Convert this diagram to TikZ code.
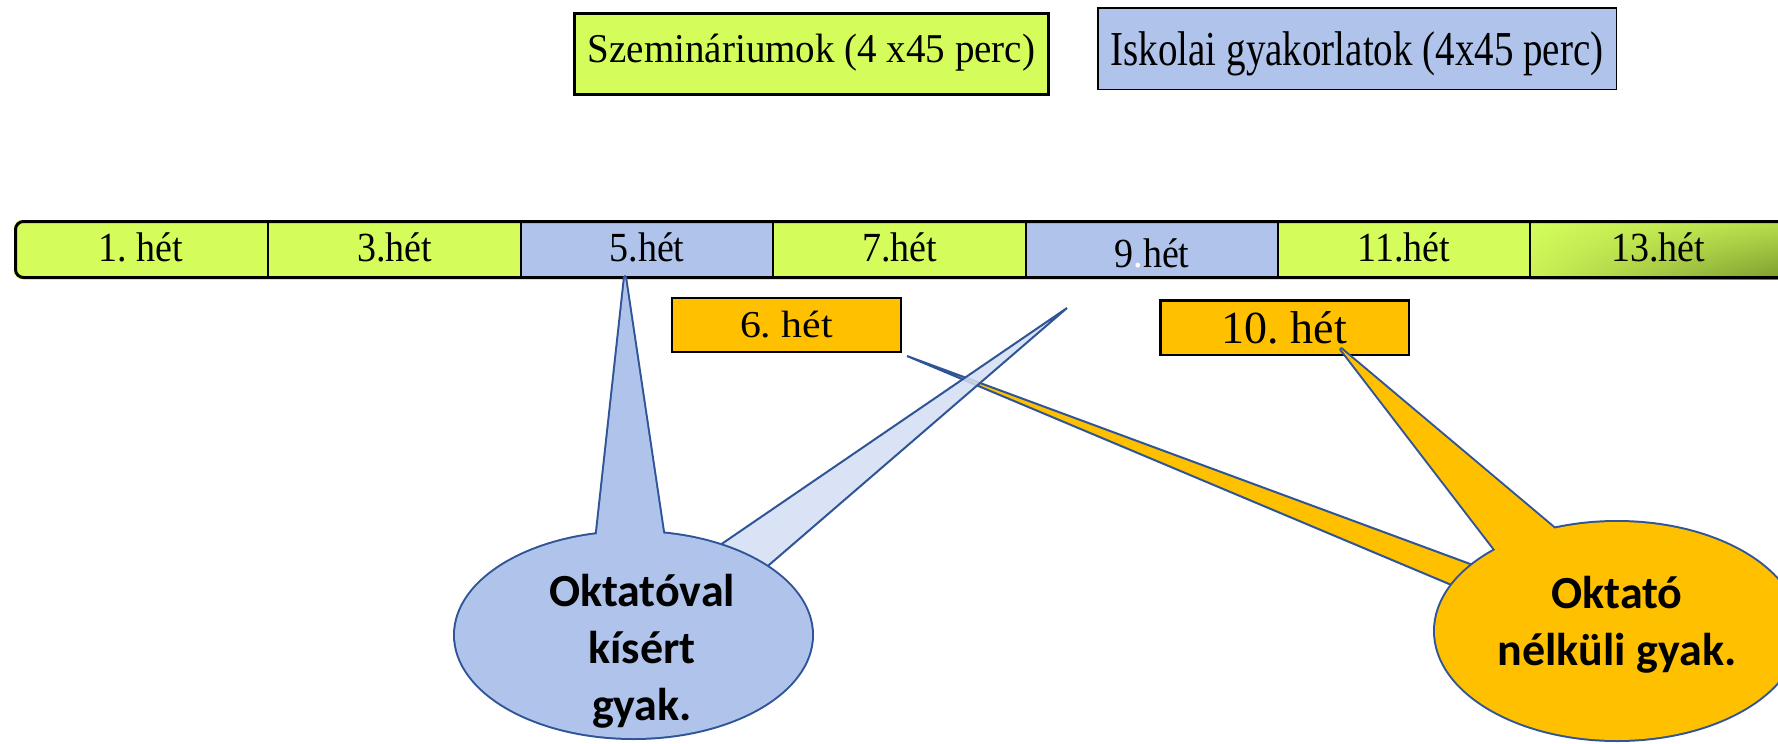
\documentclass[tikz,border=0pt]{standalone}
\usepackage{fontspec}
\setmainfont{Liberation Serif}
\newfontfamily\calib{Carlito}
\usepackage{graphicx}
\usetikzlibrary{shadings}
\definecolor{lime}{HTML}{D4FD5C}
\definecolor{cellblue}{HTML}{B0C3EA}
\definecolor{wedgeblue}{HTML}{D3DEF3}
\definecolor{orng}{HTML}{FFC000}
\definecolor{outl}{HTML}{2F5597}
\definecolor{olive}{HTML}{7B9A2C}
\newcommand\vstr[2]{\scalebox{1}[#1]{#2}}
\frenchspacing
\begin{document}
\frenchspacing
\begin{tikzpicture}[x=1pt,y=-1pt,
  cell/.style={rectangle, inner sep=0pt, outer sep=0pt, minimum width=#1, minimum height=59pt,
    text height=28pt, text depth=5pt, font=\fontsize{38}{46}\selectfont},
  topbox/.style={rectangle, draw=black, inner sep=0pt, outer sep=0pt},
  divider/.style={line width=2.6pt, black},
  wedge/.style={draw=outl, line width=2pt, line join=bevel},
  bubtext/.style={anchor=base, inner sep=0pt, font=\calib\bfseries\fontsize{46}{57}\selectfont}]
\clip (0,0) rectangle (1778,744);
\useasboundingbox (0,0) rectangle (1778,744);

% timeline bar
\fill[lime, rounded corners=8pt] (14,220) rectangle (1800,279);
\node[cell=254pt] (c1) at (141,249.5) {\vstr{1.09}{1. hét}};
\node[cell=253pt] (c3) at (394.5,249.5) {\vstr{1.09}{3.hét}};
\node[cell=252pt, fill=cellblue] (c5) at (647,249.5) {\vstr{1.09}{5.hét}};
\node[cell=253pt] (c7) at (899.5,249.5) {\vstr{1.09}{7.hét}};
\node[cell=252pt, fill=cellblue, text height=38pt, text depth=3pt] (c9) at (1152,249.5) {\vstr{1.09}{9\textcolor{white}{.}hét}};
\node[cell=252pt] (c11) at (1404,249.5) {\vstr{1.09}{11.hét}};
\node[cell=256pt, shade, upper left=lime, upper right=lime!70!olive, lower left=lime!88!olive, lower right=olive] (c13) at (1658,249.5) {\vstr{1.09}{13.hét}};
\foreach \c in {c1,c3,c5,c7,c9,c11}{
  \draw[divider] (\c.north east) -- (\c.south east);
}
\draw[line width=3pt, rounded corners=8pt] (1800,221.5) -- (15.5,221.5) -- (15.5,277.5) -- (1800,277.5);

% top legend boxes
\node[topbox, line width=3pt, fill=lime, minimum width=474pt, minimum height=81pt,
  text height=30pt, text depth=14pt, font=\fontsize{39}{47}\selectfont] (szem) at (811.5,54)
  {\vstr{1.05}{Szemináriumok (4 x45 perc)}};
\node[topbox, line width=1.5pt, fill=cellblue, minimum width=518.5pt, minimum height=81.5pt,
  text height=40pt, text depth=7pt, font=\fontsize{39}{47}\selectfont] (isk) at (1357,48.5)
  {\vstr{1.25}{Iskolai gyakorlatok (4x45 perc)}};

% week boxes
\node[topbox, line width=2pt, fill=orng, minimum width=229pt, minimum height=54pt,
  text height=30pt, text depth=6pt, font=\fontsize{38}{46}\selectfont] (h6) at (786.5,325)
  {\scalebox{1.1}[1]{6. hét}};
\node[topbox, line width=2.5pt, fill=orng, minimum width=248.5pt, minimum height=54.5pt,
  text height=36pt, text depth=5pt, font=\fontsize{46}{55}\selectfont] (h10) at (1284.5,327.5)
  {10. hét};

% callout geometry
\coordinate (bc) at (633.5,635);
\coordinate (oc) at (1617,631);
\coordinate (t5) at (625,277);
\coordinate (t5l) at (593.9,560);
\coordinate (t5r) at (667.2,560);
\coordinate (t9) at (1067,308);
\coordinate (t9l) at (700,558.7);
\coordinate (t9r) at (740,590);
\coordinate (t6) at (907,356);
\coordinate (t6u) at (1500,575);
\coordinate (t6d) at (1480,597);
\coordinate (t10) at (1341,349);
\coordinate (t10l) at (1503,560);
\coordinate (t10r) at (1574,545);

% orange wedge from week 6 (behind the bubble)
\path[wedge, fill=orng] (t6) -- (t6u) -- (t6d) -- cycle;
% light blue wedge from week 9 (behind the bubble)
\path[wedge, fill=wedgeblue, fill opacity=0.85] (t9) -- (t9l) -- (t9r) -- cycle;

% blue bubble (union of wedge and ellipse)
\path[draw=outl, line width=4pt, line join=round] (t5) -- (t5l) -- (t5r) -- cycle;
\path[draw=outl, line width=4pt] (bc) ellipse [x radius=178.5pt, y radius=103pt];
\fill[cellblue] (t5) -- (t5l) -- (t5r) -- cycle;
\fill[cellblue] (bc) ellipse [x radius=178.5pt, y radius=103pt];

% orange bubble (union of wedge and ellipse)
\path[draw=outl, line width=4pt, line join=round] (t10) -- (t10l) -- (t10r) -- cycle;
\path[draw=outl, line width=4pt] (oc) ellipse [x radius=182pt, y radius=109pt];
\fill[orng] (t10) -- (t10l) -- (t10r) -- cycle;
\fill[orng] (oc) ellipse [x radius=182pt, y radius=109pt];

% bubble texts
\node[bubtext] (okv) at (642,606) {\begin{tabular}[t]{@{}c@{}}Oktatóval\\kísért\\gyak.\end{tabular}};
\node[bubtext] (okn) at (1617,608) {\begin{tabular}[t]{@{}c@{}}Oktató\\nélküli gyak.\end{tabular}};
\end{tikzpicture}
\end{document}
